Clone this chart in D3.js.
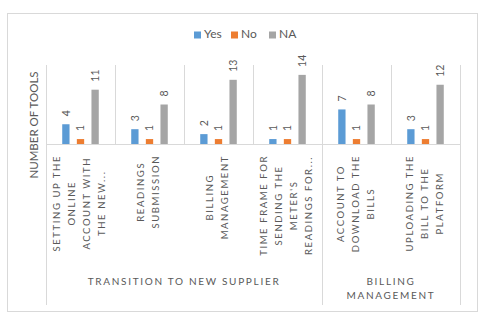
<!DOCTYPE html>
<html>
<head>
<meta charset="utf-8">
<script src="https://cdn.jsdelivr.net/npm/d3@7"></script>
<style>
  body { margin: 0; background: #fff; }
  text { font-family: Lato, "Liberation Sans", sans-serif; fill: #595959; }
</style>
</head>
<body>
<div id="chart"></div>
<script>
// data
const categories = [
  ["SETTING UP THE", "ONLINE", "ACCOUNT WITH", "THE NEW..."],
  ["READINGS", "SUBMISSION"],
  ["BILLING", "MANAGEMENT"],
  ["TIME FRAME FOR", "SENDING THE", "METER'S", "READINGS FOR..."],
  ["ACCOUNT TO", "DOWNLOAD THE", "BILLS"],
  ["UPLOADING THE", "BILL TO THE", "PLATFORM"]
];
const yesValues = [4, 3, 2, 1, 7, 3];
const noValues = [1, 1, 1, 1, 1, 1];
const naValues = [11, 8, 13, 14, 8, 12];
const seriesNames = ["Yes", "No", "NA"];
const groupNames = [["TRANSITION TO NEW SUPPLIER"], ["BILLING", "MANAGEMENT"]];
const groupSpans = [4, 2];

const colors = {Yes: "#5B9BD5", No: "#ED7D31", NA: "#A5A5A5"};
const width = 488, height = 322;
const plot = {left: 46, right: 460, top: 65, bottom: 144};

const svg = d3.select("#chart").append("svg")
    .attr("width", width)
    .attr("height", height);

// outer chart border
svg.append("rect")
    .attr("x", 7.5).attr("y", 13.5)
    .attr("width", 470).attr("height", 298)
    .attr("fill", "#fff")
    .attr("stroke", "#D9D9D9");

const ids = categories.map((d, i) => i);
const x0 = d3.scaleBand().domain(ids).range([plot.left, plot.right]);
const x1 = d3.scaleBand().domain(seriesNames).range([0, x0.bandwidth()])
    .paddingInner(0.5).paddingOuter(1.11);
const y = d3.scaleLinear().domain([0, 16]).range([plot.bottom, plot.top]);

const rows = ids.map(i => ({i: i, Yes: yesValues[i], No: noValues[i], NA: naValues[i]}));

// vertical gridlines at category boundaries
const bounds = ids.map(i => x0(i)).concat([plot.right]);
svg.append("g").selectAll("line")
    .data(bounds)
    .enter().append("line")
    .attr("x1", d => Math.round(d) + 0.5).attr("x2", d => Math.round(d) + 0.5)
    .attr("y1", plot.top).attr("y2", plot.bottom)
    .attr("stroke", "#D9D9D9");

// group separators below the axis
let acc = 0;
const groupBounds = [0];
groupSpans.forEach(s => { acc += s; groupBounds.push(acc); });
svg.append("g").selectAll("line")
    .data(groupBounds)
    .enter().append("line")
    .attr("x1", d => Math.round(d < ids.length ? x0(d) : plot.right) + 0.5)
    .attr("x2", d => Math.round(d < ids.length ? x0(d) : plot.right) + 0.5)
    .attr("y1", plot.bottom).attr("y2", 305)
    .attr("stroke", "#D9D9D9");

// bars
const cat = svg.append("g").selectAll("g")
    .data(rows)
    .enter().append("g")
    .attr("transform", d => `translate(${x0(d.i)},0)`);

cat.selectAll("rect")
    .data(d => seriesNames.map(k => ({key: k, value: d[k]})))
    .enter().append("rect")
    .attr("x", d => x1(d.key))
    .attr("width", x1.bandwidth())
    .attr("y", d => y(d.value))
    .attr("height", d => y(0) - y(d.value))
    .attr("fill", d => colors[d.key]);

cat.selectAll("text.val")
    .data(d => seriesNames.map(k => ({key: k, value: d[k]})))
    .enter().append("text")
    .attr("class", "val")
    .attr("transform", d => `translate(${x1(d.key) + x1.bandwidth() / 2 + 1},${y(d.value) - 8}) rotate(-90)`)
    .attr("dominant-baseline", "middle")
    .style("font-size", "10.5px")
    .text(d => d.value);

// baseline axis
svg.append("line")
    .attr("x1", plot.left).attr("x2", plot.right)
    .attr("y1", plot.bottom + 0.5).attr("y2", plot.bottom + 0.5)
    .attr("stroke", "#D9D9D9");

// category labels, rotated, lines centered on the longest one
const labelTop = 155, lineGap = 15;
categories.forEach((lines, i) => {
    const cx = x0(i) + x0.bandwidth() / 2;
    const g = svg.append("g");
    const texts = g.selectAll("text")
        .data(lines)
        .enter().append("text")
        .style("font-size", "9.5px")
        .style("letter-spacing", "1.6px")
        .attr("text-anchor", "middle")
        .attr("dominant-baseline", "middle")
        .text(d => d);
    let maxLen = 0;
    texts.each(function() { maxLen = Math.max(maxLen, this.getComputedTextLength()); });
    texts.attr("transform", (d, j) =>
        `translate(${cx + (j - (lines.length - 1) / 2) * lineGap},${labelTop + maxLen / 2}) rotate(-90)`);
});

// group labels
acc = 0;
groupNames.forEach((lines, gi) => {
    const start = x0(acc);
    acc += groupSpans[gi];
    const end = acc < ids.length ? x0(acc) : plot.right;
    svg.append("g").selectAll("text")
        .data(lines)
        .enter().append("text")
        .attr("x", (start + end) / 2)
        .attr("y", (d, j) => 282 + j * 14)
        .attr("text-anchor", "middle")
        .attr("dominant-baseline", "middle")
        .style("font-size", "10px")
        .style("letter-spacing", "1.7px")
        .text(d => d);
});

// y axis title
svg.append("text")
    .attr("transform", "translate(35,125) rotate(-90)")
    .attr("text-anchor", "middle")
    .attr("dominant-baseline", "middle")
    .style("font-size", "11.5px")
    .text("NUMBER OF TOOLS");

// legend
const legend = svg.append("g").attr("transform", "translate(194,35)");
const legendX = [0, 37, 75];
seriesNames.forEach((k, i) => {
    legend.append("rect")
        .attr("x", legendX[i]).attr("y", -3.5)
        .attr("width", 7).attr("height", 7)
        .attr("fill", colors[k]);
    legend.append("text")
        .attr("x", legendX[i] + 10).attr("y", 0)
        .attr("dominant-baseline", "middle")
        .style("font-size", "12px")
        .text(k);
});
</script>
</body>
</html>
